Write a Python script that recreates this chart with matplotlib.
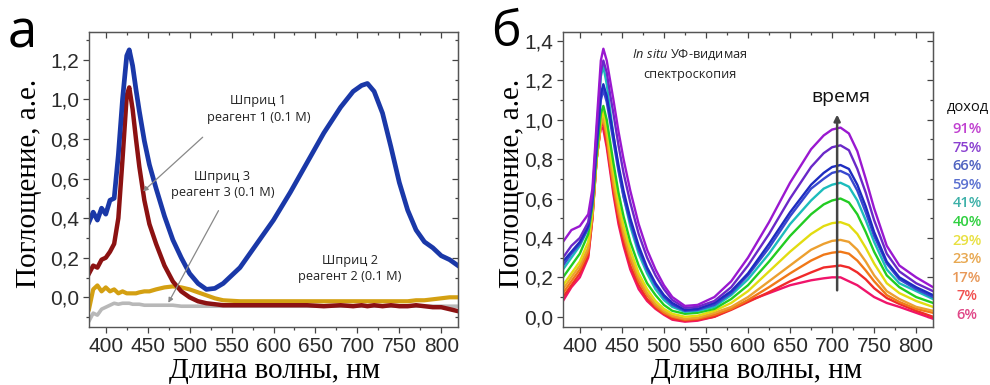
import matplotlib
matplotlib.use('Agg')
import matplotlib.pyplot as plt
from matplotlib.ticker import MultipleLocator, FuncFormatter, NullFormatter

# ---------------- panel a: syringe spectra ----------------
wl_a = [380, 385, 390, 395, 400, 405, 410, 415, 420, 425, 428, 432, 436, 440, 446, 452,
        460, 470, 480, 490, 500, 510, 520, 530, 540, 560, 580, 600, 620, 640, 660, 680,
        695, 705, 712, 720, 730, 740, 750, 760, 770, 780, 790, 800, 810, 820]
syr1 = [0.38, 0.43, 0.39, 0.45, 0.42, 0.49, 0.50, 0.72, 1.00, 1.22, 1.25, 1.17, 1.05, 0.94, 0.79, 0.67,
        0.55, 0.41, 0.29, 0.20, 0.12, 0.07, 0.04, 0.045, 0.07, 0.15, 0.27, 0.39, 0.53, 0.68, 0.83, 0.96,
        1.04, 1.07, 1.08, 1.04, 0.93, 0.76, 0.58, 0.44, 0.34, 0.28, 0.25, 0.21, 0.19, 0.16]
syr3 = [0.12, 0.16, 0.15, 0.19, 0.20, 0.23, 0.27, 0.40, 0.70, 1.02, 1.06, 0.95, 0.80, 0.66, 0.49, 0.37,
        0.27, 0.16, 0.08, 0.03, 0.00, -0.02, -0.03, -0.035, -0.04, -0.04, -0.04, -0.04, -0.04, -0.04, -0.045, -0.04,
        -0.045, -0.04, -0.045, -0.04, -0.045, -0.04, -0.045, -0.045, -0.04, -0.045, -0.05, -0.05, -0.06, -0.07]
syr2 = [-0.06, 0.04, 0.06, 0.03, 0.05, 0.03, 0.04, 0.02, 0.03, 0.02, 0.02, 0.02, 0.02, 0.025, 0.03, 0.03,
        0.04, 0.05, 0.055, 0.05, 0.04, 0.025, 0.01, -0.005, -0.015, -0.02, -0.02, -0.02, -0.02, -0.02, -0.02, -0.02,
        -0.02, -0.02, -0.02, -0.02, -0.02, -0.02, -0.02, -0.02, -0.015, -0.015, -0.01, -0.005, 0.0, 0.0]
blank = [-0.12, -0.08, -0.09, -0.06, -0.05, -0.04, -0.03, -0.035, -0.03, -0.03, -0.03, -0.035, -0.035, -0.035, -0.04, -0.04,
         -0.04, -0.04, -0.04, -0.045, -0.045, -0.045, -0.045, -0.045, -0.045, -0.045, -0.045, -0.045, -0.045, -0.045, -0.045, -0.045,
         -0.045, -0.045, -0.045, -0.045, -0.045, -0.045, -0.045, -0.045, -0.045, -0.045, -0.045, -0.045, -0.045, -0.045]

# ---------------- panel б: in situ spectra ----------------
wl_b = [380, 390, 400, 410, 415, 420, 425, 428, 432, 436, 440, 446, 452, 460, 470, 480, 490, 500, 510,
        525, 540, 560, 580, 600, 625, 650, 675, 690, 700, 710, 720, 730, 740, 750, 765, 780, 800, 820]
y91 = [0.38, 0.44, 0.46, 0.52, 0.65, 0.98, 1.30, 1.36, 1.30, 1.20, 1.10, 0.94, 0.80, 0.64, 0.47, 0.34, 0.24, 0.16, 0.10,
       0.055, 0.06, 0.10, 0.18, 0.30, 0.48, 0.68, 0.85, 0.92, 0.95, 0.96, 0.93, 0.84, 0.70, 0.55, 0.36, 0.26, 0.20, 0.15]
y75 = [0.30, 0.36, 0.40, 0.48, 0.62, 0.94, 1.24, 1.30, 1.24, 1.13, 1.03, 0.87, 0.73, 0.58, 0.42, 0.30, 0.21, 0.14, 0.085,
       0.045, 0.05, 0.08, 0.15, 0.26, 0.42, 0.60, 0.76, 0.83, 0.86, 0.87, 0.845, 0.75, 0.63, 0.49, 0.32, 0.23, 0.17, 0.13]
y66 = [0.28, 0.33, 0.38, 0.46, 0.60, 0.88, 1.13, 1.18, 1.12, 1.02, 0.92, 0.77, 0.64, 0.50, 0.36, 0.25, 0.17, 0.11, 0.07,
       0.035, 0.04, 0.07, 0.13, 0.22, 0.37, 0.53, 0.67, 0.73, 0.76, 0.77, 0.75, 0.67, 0.56, 0.43, 0.28, 0.20, 0.15, 0.11]
y59 = [0.26, 0.32, 0.37, 0.45, 0.58, 0.86, 1.10, 1.15, 1.09, 0.99, 0.89, 0.74, 0.61, 0.48, 0.34, 0.24, 0.16, 0.10, 0.06,
       0.03, 0.035, 0.06, 0.12, 0.21, 0.35, 0.51, 0.65, 0.70, 0.73, 0.74, 0.72, 0.64, 0.53, 0.41, 0.27, 0.19, 0.14, 0.10]
y41 = [0.24, 0.30, 0.36, 0.45, 0.60, 0.92, 1.22, 1.27, 1.18, 1.05, 0.92, 0.75, 0.61, 0.46, 0.32, 0.22, 0.14, 0.085, 0.05,
       0.025, 0.03, 0.05, 0.11, 0.19, 0.32, 0.47, 0.59, 0.65, 0.67, 0.68, 0.66, 0.59, 0.49, 0.38, 0.24, 0.17, 0.13, 0.09]
y40 = [0.20, 0.26, 0.32, 0.42, 0.56, 0.82, 1.03, 1.07, 1.00, 0.89, 0.78, 0.63, 0.51, 0.38, 0.26, 0.17, 0.11, 0.06, 0.03,
       0.015, 0.02, 0.04, 0.09, 0.16, 0.28, 0.41, 0.52, 0.57, 0.59, 0.60, 0.58, 0.52, 0.43, 0.33, 0.21, 0.15, 0.10, 0.07]
y29 = [0.16, 0.22, 0.28, 0.38, 0.54, 0.80, 1.00, 1.04, 0.96, 0.84, 0.73, 0.58, 0.46, 0.34, 0.22, 0.14, 0.08, 0.04, 0.015,
       0.0, 0.005, 0.03, 0.07, 0.13, 0.23, 0.33, 0.42, 0.46, 0.475, 0.48, 0.465, 0.42, 0.35, 0.27, 0.17, 0.12, 0.08, 0.05]
y23 = [0.14, 0.20, 0.26, 0.35, 0.52, 0.80, 0.98, 1.01, 0.93, 0.80, 0.69, 0.55, 0.43, 0.31, 0.20, 0.12, 0.065, 0.03, 0.005,
       -0.01, -0.005, 0.02, 0.05, 0.10, 0.18, 0.26, 0.34, 0.37, 0.385, 0.39, 0.38, 0.34, 0.28, 0.21, 0.13, 0.09, 0.05, 0.03]
y17 = [0.12, 0.18, 0.24, 0.33, 0.51, 0.80, 0.97, 1.00, 0.91, 0.78, 0.66, 0.52, 0.41, 0.29, 0.18, 0.11, 0.055, 0.02, 0.0,
       -0.015, -0.01, 0.01, 0.04, 0.085, 0.15, 0.22, 0.285, 0.315, 0.325, 0.33, 0.32, 0.285, 0.235, 0.18, 0.11, 0.075, 0.04, 0.02]
y07 = [0.10, 0.16, 0.22, 0.31, 0.50, 0.80, 0.97, 0.98, 0.88, 0.76, 0.64, 0.49, 0.38, 0.26, 0.16, 0.09, 0.045, 0.015, -0.01,
       -0.02, -0.015, 0.0, 0.035, 0.075, 0.125, 0.18, 0.225, 0.25, 0.255, 0.26, 0.25, 0.225, 0.19, 0.145, 0.095, 0.065, 0.03, 0.0]
y06 = [0.08, 0.15, 0.20, 0.30, 0.50, 0.80, 0.97, 0.95, 0.86, 0.74, 0.62, 0.47, 0.36, 0.24, 0.14, 0.08, 0.04, 0.01, -0.015,
       -0.025, -0.02, 0.0, 0.04, 0.08, 0.12, 0.16, 0.185, 0.195, 0.20, 0.20, 0.18, 0.16, 0.13, 0.10, 0.07, 0.05, 0.02, -0.01]

series_b = [y06, y07, y17, y23, y29, y40, y41, y59, y66, y75, y91]
line_colors = ['#f0146a', '#f02a2a', '#f07818', '#eca030', '#e2dc10', '#22cc22',
               '#1cbcbc', '#3848d0', '#1e2cc0', '#6a28c8', '#9a18d0']
yield_labels = ['91%', '75%', '66%', '59%', '41%', '40%', '29%', '23%', '17%', '7%', '6%']
label_colors = ['#c040d0', '#8a40d0', '#4f63c0', '#5a70d0', '#3cb0a8', '#30d040',
                '#e8e040', '#e8a850', '#e89858', '#f05050', '#e04888']

SANS = 'Liberation Sans'
SERIF = 'Liberation Serif'
ANN = 'Open Sans'

plt.rcParams['mathtext.fontset'] = 'custom'
plt.rcParams['mathtext.it'] = 'Open Sans:italic'
plt.rcParams['mathtext.rm'] = 'Open Sans'

fig = plt.figure(figsize=(9.9, 3.85), dpi=100)
ax1 = fig.add_axes([89 / 990, 1 - 327 / 385, 369 / 990, 295 / 385])
ax2 = fig.add_axes([563 / 990, 1 - 327 / 385, 370 / 990, 295 / 385])

comma = FuncFormatter(lambda v, p: f'{v:.1f}'.replace('.', ','))


def set_ticks(axis, major, minor, direction):
    axis.set_major_locator(MultipleLocator(major))
    axis.set_minor_locator(MultipleLocator(minor))
    axis.set_tick_params(which='both', direction=direction, color='#444', width=0.9)
    axis.set_tick_params(which='major', length=4)
    axis.set_tick_params(which='minor', length=2.5)


def style_axes(ax, ylim):
    ax.set_xlim(380, 820)
    ax.set_ylim(*ylim)
    set_ticks(ax.xaxis, 50, 25, 'out')
    set_ticks(ax.yaxis, 0.2, 0.1, 'out')
    ax.yaxis.set_major_formatter(comma)
    ax.tick_params(labelsize=15, labelcolor='#2a2a2a', pad=3)
    for lab in ax.get_xticklabels() + ax.get_yticklabels():
        lab.set_family(SANS)
    # top and right ticks point inward
    top = ax.secondary_xaxis('top')
    set_ticks(top.xaxis, 50, 25, 'in')
    top.xaxis.set_major_formatter(NullFormatter())
    right = ax.secondary_yaxis('right')
    set_ticks(right.yaxis, 0.2, 0.1, 'in')
    right.yaxis.set_major_formatter(NullFormatter())
    for sec in (top, right):
        for s in sec.spines.values():
            s.set_color('#555')
    for s in ax.spines.values():
        s.set_color('#555')
        s.set_linewidth(1.0)
    ax.set_xlabel('Длина волны, нм', family=SERIF, fontsize=21)
    ax.set_ylabel('Поглощение, а.е.', family=SERIF, fontsize=21)


style_axes(ax1, (-0.15, 1.34))
style_axes(ax2, (-0.052, 1.445))
ax1.xaxis.set_label_coords(0.503, -0.105)
ax1.yaxis.set_label_coords(-0.127, 0.488)
ax2.xaxis.set_label_coords(0.523, -0.105)
ax2.yaxis.set_label_coords(-0.103, 0.488)

# panel a curves
ax1.plot(wl_a, blank, color='#b8b8b8', lw=2.6)
ax1.plot(wl_a, syr2, color='#d4a012', lw=3.0)
ax1.plot(wl_a, syr3, color='#8c1212', lw=3.2)
ax1.plot(wl_a, syr1, color='#1a38a8', lw=3.4)

ann_kw = dict(family=ANN, fontsize=9.2, color='#222', ha='center', va='center', linespacing=1.35)
ax1.text(582, 0.95, 'Шприц 1\nреагент 1 (0.1 M)', **ann_kw)
ax1.text(539, 0.57, 'Шприц 3\nреагент 3 (0.1 M)', **ann_kw)
ax1.text(691, 0.146, 'Шприц 2\nреагент 2 (0.1 M)', **ann_kw)
arrow_kw = dict(arrowstyle='-|>', color='#888', lw=0.9, mutation_scale=7)
ax1.annotate('', xy=(442, 0.525), xytext=(518, 0.818), arrowprops=arrow_kw)
ax1.annotate('', xy=(473, -0.04), xytext=(536, 0.45), arrowprops=arrow_kw)

# panel б curves
for ys, c in zip(series_b, line_colors):
    ax2.plot(wl_b, ys, color=c, lw=1.7)

ax2.annotate('', xy=(706, 1.04), xytext=(706, 0.12),
             arrowprops=dict(arrowstyle='-|>', color='#444', lw=1.8, mutation_scale=9))
ax2.text(711, 1.115, 'время', family=ANN, fontsize=14, ha='center', va='center', color='#111')
ax2.text(531, 1.328, r'$\it{In\ situ}$ УФ-видимая', family=ANN, fontsize=9.2,
         ha='center', va='center', color='#222')
ax2.text(531, 1.227, 'спектроскопия', family=ANN, fontsize=9.2, ha='center', va='center', color='#222')

fig.text(968 / 990, 1 - 108 / 385, 'доход', family=ANN, fontsize=10.5, ha='center', va='center', color='#111')
for i, (lab, c) in enumerate(zip(yield_labels, label_colors)):
    fig.text(967 / 990, 1 - (129 + i * 18.6) / 385, lab, family=ANN, fontsize=10.5,
             ha='center', va='center', color=c, weight='semibold')

fig.text(22 / 990, 1 - 34 / 385, 'а', family=ANN, fontsize=38, ha='center', va='center')
fig.text(506 / 990, 1 - 33 / 385, 'б', family=ANN, fontsize=36, ha='center', va='center')

fig.savefig('out.png', dpi=100)
